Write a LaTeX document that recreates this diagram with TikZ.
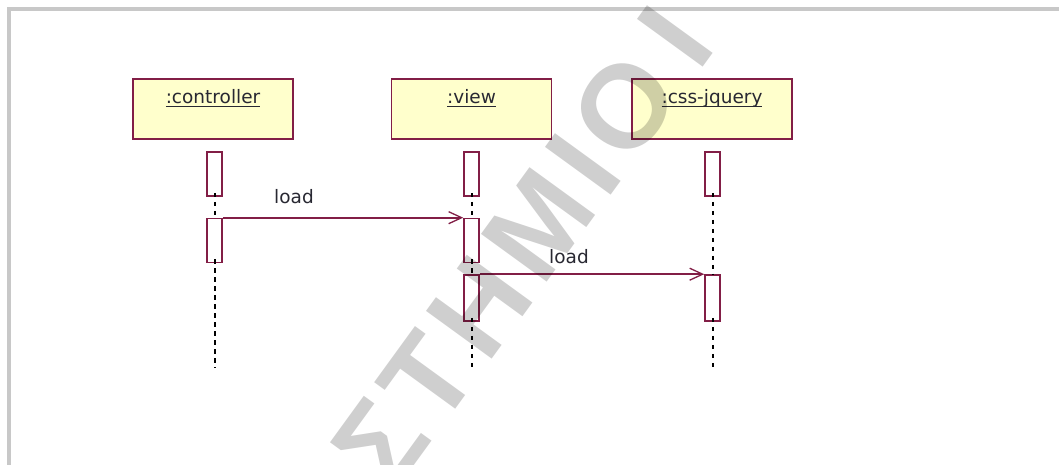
\documentclass[tikz,border=0pt]{standalone}
\usepackage{fontspec}
\setmainfont{Liberation Sans}
\newfontfamily\umlfont{DejaVu Sans}
\newfontfamily\wmfont[LetterSpace=8]{Liberation Sans Bold}
\usetikzlibrary{arrows.meta}
\definecolor{umlred}{RGB}{130,30,70}
\definecolor{umlfill}{RGB}{255,255,204}
\definecolor{umltext}{RGB}{40,40,50}
\definecolor{framegray}{RGB}{200,200,200}
\newcommand\myul[1]{\setbox0\hbox{#1}\rlap{\color{umltext}\rule[-2.8pt]{\wd0}{1.2pt}}\box0}
\begin{document}
\begin{tikzpicture}[x=1pt,y=-1pt,
  frame/.style={draw=framegray, line width=4pt},
  objbox/.style={draw=umlred, fill=umlfill, line width=1.7pt, minimum width=160pt, minimum height=60pt, inner sep=0pt},
  objlabel/.style={anchor=base, inner sep=0pt, text=umltext, font=\umlfont\fontsize{18.5}{22}\selectfont},
  actbar/.style={draw=umlred, fill=white, line width=1.6pt, minimum width=15pt, minimum height=44pt, inner sep=0pt},
  lifeline/.style={draw=black, line width=2pt, dash pattern=on 4.5pt off 4.5pt},
  msg/.style={draw=umlred, line width=1.7pt, -{Straight Barb[length=13pt,width=12pt,line width=1.3pt]}},
  msglabel/.style={inner sep=0pt, text=umltext, font=\umlfont\fontsize{18.5}{22}\selectfont},
  watermark/.style={inner sep=0pt, text=black, text opacity=0.19, font=\wmfont\fontsize{118}{118}\selectfont}
]
\useasboundingbox (0,0) rectangle (1059,465);
\fill[white] (0,0) rectangle (1059,465);
\draw[frame] (9,465) -- (9,9.5) -- (1059,9.5);

% objects
\node[objbox] (ctrl) at (213,109) {};
\node[objbox] (view) at (471.5,109) {};
\node[objbox] (css) at (712,109) {};
\node[objlabel] (ctrlL) at (213,104) {\myul{:controller}};
\node[objlabel] (viewL) at (471.5,104) {\myul{:view}};
\node[objlabel] (cssL) at (712,104) {\myul{:css-jquery}};

% activation bars
\node[actbar] (c1) at (214.5,174) {};
\node[actbar] (c2) at (214.5,240.5) {};
\node[actbar] (v1) at (471.5,174) {};
\node[actbar] (v2) at (471.5,240.5) {};
\node[actbar, minimum height=46pt] (v3) at (471.5,298) {};
\node[actbar] (s1) at (712.5,174) {};
\node[actbar, minimum height=46pt] (s2) at (712.5,298) {};

\coordinate (cend) at (214.5,368);
\coordinate (vend) at (471.5,368);
\coordinate (send) at (712.5,368);

% lifelines
\draw[lifeline] ([yshift=4pt]c1.south) -- (c2.north);
\draw[lifeline] ([yshift=4pt]c2.south) -- (cend);
\draw[lifeline] ([yshift=4pt]v1.south) -- (v2.north);
\draw[lifeline] ([yshift=4pt]v2.south) -- (v3.north);
\draw[lifeline] ([yshift=4pt]v3.south) -- (vend);
\draw[lifeline] ([yshift=4pt]s1.south) -- (s2.north);
\draw[lifeline] ([yshift=4pt]s2.south) -- (send);

% messages
\draw[msg] (c2.north east) -- (v2.north west);
\node[msglabel] (m1) at (294,197) {load};
\draw[msg] (v3.north east) -- (s2.north west);
\node[msglabel] (m2) at (569,257) {load};

% watermark
\begin{scope}
\clip (0,0) rectangle (1059,465);
\node[watermark, rotate=54, anchor=base west] (wm) at (392,496) {ΣΤΗΜΙΟ\kern0.2emΙ};
\end{scope}
\end{tikzpicture}
\end{document}
